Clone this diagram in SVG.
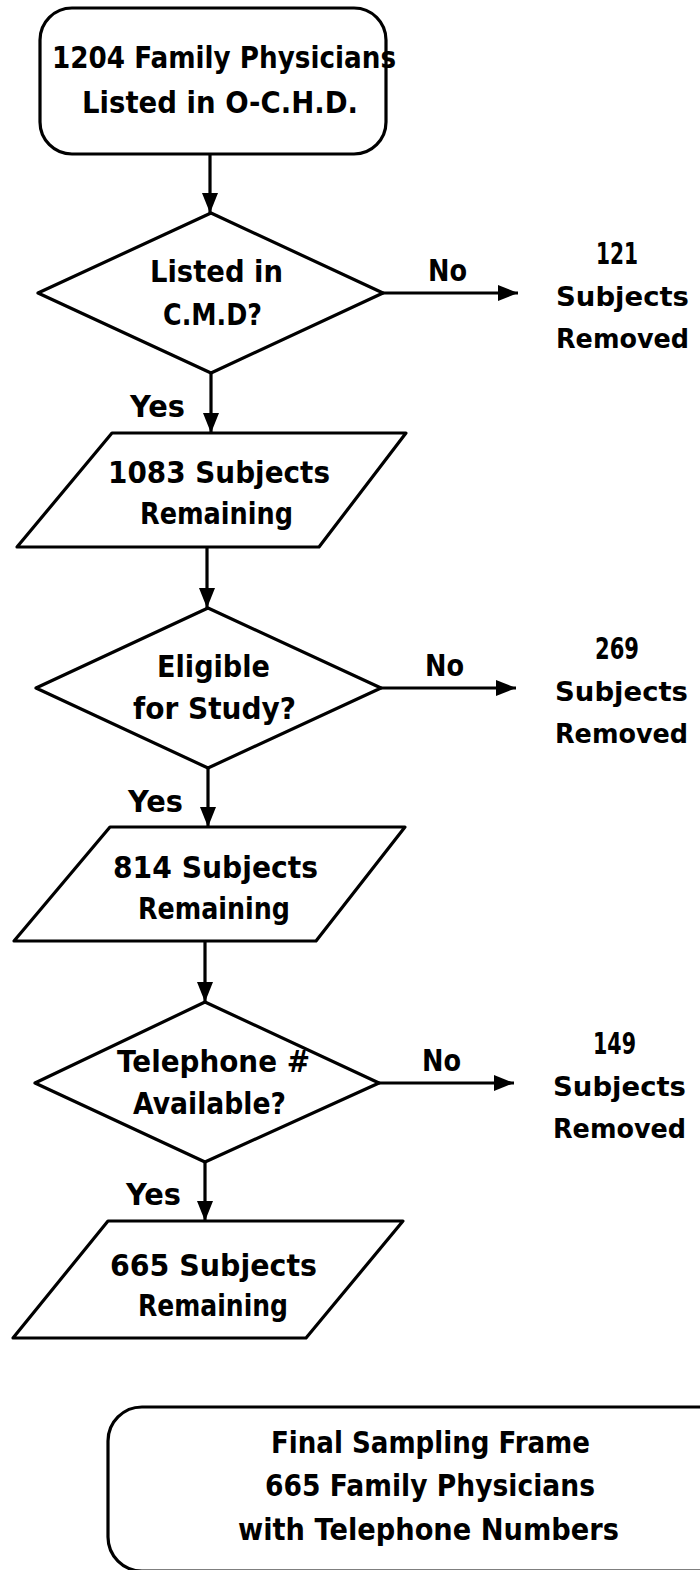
<svg xmlns="http://www.w3.org/2000/svg" width="700" height="1570" viewBox="0 0 700 1570">
<style>
.s{fill:#fff;stroke:#000;stroke-width:3.2;stroke-linejoin:round}
.c{fill:none;stroke:#000;stroke-width:3.2}
text{font-family:"DejaVu Sans","Liberation Sans",sans-serif;font-weight:bold;font-size:30px;fill:#000}
.r{font-size:27px}
</style>
<defs>
<marker id="ah" markerUnits="userSpaceOnUse" markerWidth="20" markerHeight="16" refX="20" refY="8" orient="auto">
<path d="M0,0 L20,8 L0,16 z" fill="#000"/>
</marker>
</defs>
<rect width="700" height="1570" fill="#fff"/>
<g id="connectors">
<line class="c" x1="210" y1="154" x2="210" y2="213" marker-end="url(#ah)"/>
<line class="c" x1="383" y1="293" x2="518" y2="293" marker-end="url(#ah)"/>
<line class="c" x1="211" y1="373" x2="211" y2="433" marker-end="url(#ah)"/>
<line class="c" x1="207" y1="547" x2="207" y2="608" marker-end="url(#ah)"/>
<line class="c" x1="381" y1="688" x2="516" y2="688" marker-end="url(#ah)"/>
<line class="c" x1="208" y1="768" x2="208" y2="827" marker-end="url(#ah)"/>
<line class="c" x1="205" y1="941" x2="205" y2="1002" marker-end="url(#ah)"/>
<line class="c" x1="379" y1="1083" x2="514" y2="1083" marker-end="url(#ah)"/>
<line class="c" x1="205" y1="1162" x2="205" y2="1221" marker-end="url(#ah)"/>
<text x="428" y="281" textLength="39" lengthAdjust="spacingAndGlyphs">No</text>
<text x="130" y="417" textLength="55" lengthAdjust="spacingAndGlyphs">Yes</text>
<text x="425" y="676" textLength="39" lengthAdjust="spacingAndGlyphs">No</text>
<text x="128" y="812" textLength="55" lengthAdjust="spacingAndGlyphs">Yes</text>
<text x="422" y="1071" textLength="39" lengthAdjust="spacingAndGlyphs">No</text>
<text x="126" y="1205" textLength="55" lengthAdjust="spacingAndGlyphs">Yes</text>
</g>
<g id="start">
<rect class="s" x="40" y="8" width="346" height="146" rx="32"/>
<text x="52" y="68" textLength="344" lengthAdjust="spacingAndGlyphs">1204 Family Physicians</text>
<text x="82" y="113" textLength="276" lengthAdjust="spacingAndGlyphs">Listed in O-C.H.D.</text>
</g>
<g id="decision1">
<polygon class="s" points="211,213 383,293 211,373 38,293"/>
<text x="150" y="282" textLength="133" lengthAdjust="spacingAndGlyphs">Listed in</text>
<text x="163" y="325" textLength="99" lengthAdjust="spacingAndGlyphs">C.M.D?</text>
</g>
<g id="removed1">
<text x="596" y="264" textLength="42" lengthAdjust="spacingAndGlyphs">121</text>
<text class="r" x="556" y="306" textLength="133" lengthAdjust="spacingAndGlyphs">Subjects</text>
<text class="r" x="556" y="348" textLength="133" lengthAdjust="spacingAndGlyphs">Removed</text>
</g>
<g id="remaining1">
<polygon class="s" points="112,433 406,433 319,547 17,547"/>
<text x="108" y="483" textLength="222" lengthAdjust="spacingAndGlyphs">1083 Subjects</text>
<text x="140" y="524" textLength="153" lengthAdjust="spacingAndGlyphs">Remaining</text>
</g>
<g id="decision2">
<polygon class="s" points="208,608 381,688 208,768 36,688"/>
<text x="157" y="677" textLength="113" lengthAdjust="spacingAndGlyphs">Eligible</text>
<text x="133" y="719" textLength="163" lengthAdjust="spacingAndGlyphs">for Study?</text>
</g>
<g id="removed2">
<text x="595" y="659" textLength="44" lengthAdjust="spacingAndGlyphs">269</text>
<text class="r" x="555" y="701" textLength="133" lengthAdjust="spacingAndGlyphs">Subjects</text>
<text class="r" x="555" y="743" textLength="133" lengthAdjust="spacingAndGlyphs">Removed</text>
</g>
<g id="remaining2">
<polygon class="s" points="110,827 405,827 316,941 14,941"/>
<text x="113" y="878" textLength="205" lengthAdjust="spacingAndGlyphs">814 Subjects</text>
<text x="138" y="919" textLength="152" lengthAdjust="spacingAndGlyphs">Remaining</text>
</g>
<g id="decision3">
<polygon class="s" points="205,1002 379,1083 205,1162 35,1083"/>
<text x="117" y="1072" textLength="193" lengthAdjust="spacingAndGlyphs">Telephone #</text>
<text x="133" y="1114" textLength="153" lengthAdjust="spacingAndGlyphs">Available?</text>
</g>
<g id="removed3">
<text x="593" y="1054" textLength="43" lengthAdjust="spacingAndGlyphs">149</text>
<text class="r" x="553" y="1096" textLength="133" lengthAdjust="spacingAndGlyphs">Subjects</text>
<text class="r" x="553" y="1138" textLength="133" lengthAdjust="spacingAndGlyphs">Removed</text>
</g>
<g id="remaining3">
<polygon class="s" points="108,1221 403,1221 306,1338 13,1338"/>
<text x="110" y="1276" textLength="207" lengthAdjust="spacingAndGlyphs">665 Subjects</text>
<text x="138" y="1316" textLength="150" lengthAdjust="spacingAndGlyphs">Remaining</text>
</g>
<g id="final">
<rect class="s" x="108" y="1407" width="640" height="164" rx="34"/>
<text x="271" y="1453" textLength="319" lengthAdjust="spacingAndGlyphs">Final Sampling Frame</text>
<text x="265" y="1496" textLength="330" lengthAdjust="spacingAndGlyphs">665 Family Physicians</text>
<text x="238" y="1540" textLength="381" lengthAdjust="spacingAndGlyphs">with Telephone Numbers</text>
</g>
</svg>
